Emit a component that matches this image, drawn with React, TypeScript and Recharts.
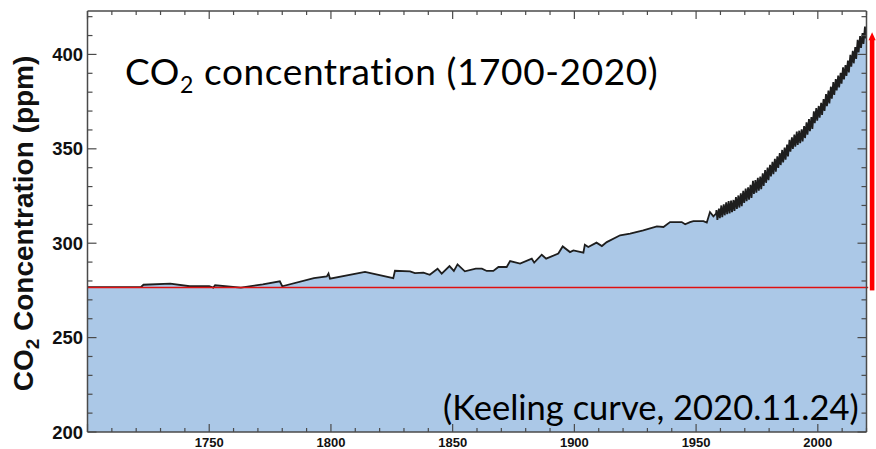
import React from 'react';
import { ComposedChart, Area, XAxis, YAxis, ReferenceLine } from 'recharts';

// ice-core / early record
const iceYears = [
  1700, 1722, 1723, 1734, 1742, 1750, 1751.7, 1752.4, 1763, 1772, 1779, 1780,
  1793, 1798.3, 1799, 1799.6, 1814, 1825.6, 1826.3, 1832.5, 1834.5, 1838, 1840.6,
  1843.8, 1845.5, 1848.7, 1850.5, 1852, 1855, 1859.5, 1862, 1864, 1866.7, 1868.8,
  1872.2, 1873.6, 1877.7, 1882.5, 1883.5, 1886.6, 1888.4, 1893.4, 1895.2, 1898.2,
  1899.6, 1903.7, 1904.3, 1905.7, 1909.1, 1911.3, 1913.3, 1918.8, 1922.9, 1928.3,
  1933.9, 1936.6, 1939.3, 1942.1, 1944.1, 1945.5, 1947.5, 1948.9, 1953, 1954.4,
  1955.7, 1957.1, 1958.2,
];
const icePpm = [
  276.7, 276.8, 278.0, 278.6, 277.2, 277.2, 276.5, 277.7, 276.5, 278.2, 279.8, 277.2,
  281.5, 282.4, 283.9, 281.2, 284.8, 281.5, 285.4, 285.1, 284.2, 284.4, 283.3,
  286.5, 283.9, 287.9, 285.3, 288.8, 285.1, 286.5, 286.5, 285.3, 285.3, 287.4,
  287.4, 290.5, 289.2, 291.8, 289.7, 293.9, 291.8, 294.5, 298.3, 295.3,
  296.2, 295.0, 299.2, 298.0, 300.3, 298.5, 300.6, 304.2, 305.1, 306.8,
  308.9, 308.6, 311.2, 311.2, 311.2, 310.0, 311.2, 311.7, 311.7, 310.9,
  316.5, 314.2, 315.7,
];

// Mauna Loa record: spring high and autumn low of each year
const mloYears = [
  1958, 1959, 1960, 1961, 1962, 1963, 1964, 1965, 1966, 1967, 1968, 1969, 1970,
  1971, 1972, 1973, 1974, 1975, 1976, 1977, 1978, 1979, 1980, 1981, 1982, 1983,
  1984, 1985, 1986, 1987, 1988, 1989, 1990, 1991, 1992, 1993, 1994, 1995, 1996,
  1997, 1998, 1999, 2000, 2001, 2002, 2003, 2004, 2005, 2006, 2007, 2008, 2009,
  2010, 2011, 2012, 2013, 2014, 2015, 2016, 2017, 2018, 2019, 2020,
];
const mloHigh = [
  317.5, 318.3, 320.0, 320.6, 321.6, 322.3, 322.6, 322.9, 324.4, 325.3, 326.4, 327.8, 328.9,
  329.6, 330.9, 333.0, 333.4, 334.6, 335.3, 337.0, 338.7, 340.1, 341.5, 343.1, 344.7, 346.0,
  347.8, 349.4, 350.6, 352.3, 354.7, 356.1, 357.6, 359.1, 359.6, 360.3, 362.0, 364.0, 365.8,
  366.8, 369.8, 371.6, 372.7, 374.4, 376.4, 379.0, 380.9, 382.9, 385.3, 386.9, 388.8, 390.3,
  393.2, 394.3, 396.8, 399.8, 401.9, 403.9, 407.7, 409.7, 411.3, 414.7, 417.1,
];
const mloLow = [
  312.4, 313.3, 313.8, 314.8, 315.4, 315.8, 316.5, 317.1, 318.2, 318.9, 319.6, 321.4, 322.3,
  323.1, 324.0, 326.1, 326.8, 327.8, 328.6, 330.4, 332.0, 333.4, 335.4, 336.6, 337.9, 339.9,
  341.4, 342.8, 344.2, 346.0, 348.5, 349.9, 351.1, 352.1, 353.0, 353.9, 355.7, 357.5, 359.4,
  360.5, 363.6, 364.9, 366.5, 367.9, 370.1, 372.6, 374.0, 376.6, 378.6, 380.9, 382.5, 384.5,
  386.8, 388.6, 390.4, 393.5, 395.3, 397.6, 401.0, 403.4, 405.5, 408.5, 411.5,
];

const xTicks = [
  1700, 1710, 1720, 1730, 1740, 1750, 1760, 1770, 1780, 1790, 1800, 1810, 1820,
  1830, 1840, 1850, 1860, 1870, 1880, 1890, 1900, 1910, 1920, 1930, 1940, 1950,
  1960, 1970, 1980, 1990, 2000, 2010, 2020,
];
const yTicks = [
  200, 210, 220, 230, 240, 250, 260, 270, 280, 290, 300, 310, 320,
  330, 340, 350, 360, 370, 380, 390, 400, 410, 420,
];

const preindustrialPpm = 276.5;
const arrowFrom = 275;
const arrowTo = 411.8;

const chartData = [
  ...iceYears.map((year, i) => ({ year, co2: icePpm[i] })),
  ...mloYears.flatMap((y, i) => [
    { year: y + 0.37, co2: mloHigh[i] },
    { year: y + 0.75, co2: mloLow[i] },
  ]),
];

const FRAME = '#4a4a4a';

const BottomTick = ({ x, y, payload }: any) => {
  const v = payload.value;
  const major = v % 50 === 0;
  return (
    <g>
      <line x1={x} x2={x} y1={y} y2={y - (major ? 8 : 4)} stroke={FRAME} strokeWidth={1.2} />
      {major && v !== 1700 && (
        <text x={x} y={y + 14.7} textAnchor="middle" fontSize={13} fontWeight="bold"
          fontFamily="'Liberation Sans', Arial, sans-serif" fill="#111">{v}</text>
      )}
    </g>
  );
};

const TopTick = ({ x, y, payload }: any) => {
  const major = payload.value % 50 === 0;
  return <line x1={x} x2={x} y1={y} y2={y + (major ? 8 : 4)} stroke={FRAME} strokeWidth={1.2} />;
};

const LeftTick = ({ x, y, payload }: any) => {
  const v = payload.value;
  const major = v % 50 === 0;
  return (
    <g>
      <line x1={x} x2={x + (major ? 9 : 5)} y1={y} y2={y} stroke={FRAME} strokeWidth={1.2} />
      {major && (
        <text x={x - 4.5} y={y} dy="0.36em" textAnchor="end" fontSize={18.5} fontWeight="bold"
          fontFamily="'Liberation Sans', Arial, sans-serif" fill="#111">{v}</text>
      )}
    </g>
  );
};

const RightTick = ({ x, y, payload }: any) => {
  const major = payload.value % 50 === 0;
  return <line x1={x} x2={x - (major ? 9 : 5)} y1={y} y2={y} stroke={FRAME} strokeWidth={1.2} />;
};

const Arrow = (props: any) => {
  const { x1, y1, y2 } = props;
  const top = Math.min(y1, y2);
  const bottom = Math.max(y1, y2);
  return (
    <g>
      <rect x={x1 - 2.3} y={top + 7} width={4.6} height={bottom - top - 7} fill="#ff0000" />
      <path d={`M${x1 - 3.6},${top + 8} L${x1},${top} L${x1 + 3.6},${top + 8} Z`} fill="#ff0000" />
    </g>
  );
};

export default function App() {
  return (
    <div style={{ position: 'relative', width: 876, height: 449, background: '#fff' }}>
      <style>{`body{margin:0}`}</style>
      <ComposedChart
        width={876}
        height={449}
        data={chartData}
        margin={{ top: 0, right: 0, bottom: 0, left: 0 }}
      >
        <XAxis
          xAxisId="bottom"
          type="number"
          dataKey="year"
          domain={[1700, 2020]}
          allowDataOverflow
          ticks={xTicks}
          interval={0}
          height={17}
          tickSize={0}
          tickMargin={0}
          tickLine={false}
          tick={<BottomTick />}
          axisLine={{ stroke: FRAME, strokeWidth: 1.5 }}
        />
        <XAxis
          xAxisId="top"
          orientation="top"
          type="number"
          dataKey="year"
          domain={[1700, 2020]}
          allowDataOverflow
          ticks={xTicks}
          interval={0}
          height={11}
          tickSize={0}
          tickMargin={0}
          tickLine={false}
          tick={<TopTick />}
          axisLine={{ stroke: FRAME, strokeWidth: 1.5 }}
        />
        <YAxis
          yAxisId="left"
          type="number"
          domain={[200, 423]}
          allowDataOverflow
          ticks={yTicks}
          interval={0}
          width={87.5}
          tickSize={0}
          tickMargin={0}
          tickLine={false}
          tick={<LeftTick />}
          axisLine={{ stroke: FRAME, strokeWidth: 1.5 }}
        />
        <YAxis
          yAxisId="right"
          orientation="right"
          type="number"
          domain={[200, 423]}
          allowDataOverflow
          ticks={yTicks}
          interval={0}
          width={9.5}
          tickSize={0}
          tickMargin={0}
          tickLine={false}
          tick={<RightTick />}
          axisLine={{ stroke: FRAME, strokeWidth: 1.5 }}
        />
        <Area
          xAxisId="bottom"
          yAxisId="left"
          type="linear"
          dataKey="co2"
          stroke="#1e1e1e"
          strokeWidth={1.8}
          fill="#abc8e7"
          fillOpacity={1}
          dot={false}
          activeDot={false}
          isAnimationActive={false}
        />
        <ReferenceLine
          xAxisId="bottom"
          yAxisId="left"
          segment={[{ x: 1700, y: preindustrialPpm }, { x: 2020.7, y: preindustrialPpm }]}
          stroke="#e01010"
          strokeWidth={1.5}
          ifOverflow="visible"
        />
        <ReferenceLine
          xAxisId="bottom"
          yAxisId="left"
          segment={[{ x: 2022.3, y: arrowFrom }, { x: 2022.3, y: arrowTo }]}
          ifOverflow="visible"
          shape={<Arrow />}
        />
      </ComposedChart>
      <svg
        width={876}
        height={449}
        style={{ position: 'absolute', left: 0, top: 0, pointerEvents: 'none' }}
      >
        <text x={125} y={85} fontSize={37} letterSpacing={0.6} fontFamily="Lato, 'Open Sans', sans-serif" fill="#000">
          CO<tspan fontSize={23} dy={8}>2</tspan>
          <tspan dy={-8}> concentration (1700-2020)</tspan>
        </text>
        <text x={443} y={420} fontSize={34.5} fontFamily="Lato, 'Open Sans', sans-serif" fill="#000">
          (Keeling curve, 2020.11.24)
        </text>
        <text
          transform="translate(33,223.5) rotate(-90)"
          textAnchor="middle"
          fontSize={28}
          fontWeight="bold"
          fontFamily="'Liberation Sans', Arial, sans-serif"
          fill="#111"
        >
          CO<tspan fontSize={19} dy={6}>2</tspan>
          <tspan dy={-6}> Concentration (ppm)</tspan>
        </text>
      </svg>
    </div>
  );
}
